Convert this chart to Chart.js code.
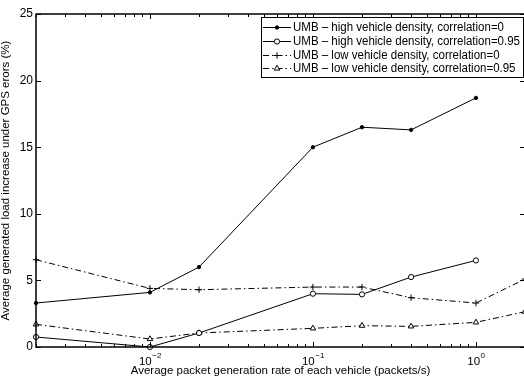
<!DOCTYPE html>
<html>
<head>
<meta charset="utf-8">
<script src="https://cdn.jsdelivr.net/npm/chart.js@4.4.1/dist/chart.umd.min.js"></script>
<style>
  html, body { margin: 0; padding: 0; background: #fff; overflow: hidden; }
  #chart { display: block; }
</style>
</head>
<body>
<canvas id="chart" width="530" height="379"></canvas>
<script>
// packet generation rate (packets/s)
const rates = [0.002, 0.01, 0.02, 0.1, 0.2, 0.4, 1];
const ratesLow = [0.002, 0.01, 0.02, 0.1, 0.2, 0.4, 1, 2];

// generated load increase (%)
const highCorr0 = [3.3, 4.1, 6.0, 15.0, 16.5, 16.3, 18.7];
const highCorr95 = [0.75, 0.0, 1.05, 4.0, 3.95, 5.25, 6.5];
const lowCorr0 = [6.55, 4.4, 4.3, 4.5, 4.5, 3.7, 3.3, 5.1];
const lowCorr95 = [1.7, 0.6, 1.05, 1.4, 1.6, 1.55, 1.85, 2.65];

const seriesNames = [
  'UMB \u2013 high vehicle density, correlation=0',
  'UMB \u2013 high vehicle density, correlation=0.95',
  'UMB \u2013 low vehicle density, correlation=0',
  'UMB \u2013 low vehicle density, correlation=0.95'
];

const yTickStep = 5;
const xDecades = [0.01, 0.1, 1];
const xDecadeExps = ['\u22122', '\u22121', '0'];

const FONT = '"Liberation Sans", Arial, Helvetica, sans-serif';
const DASHDOT = [6, 3, 1.5, 3];

const toPoints = (xs, ys) => ys.map((v, i) => ({ x: xs[i], y: v }));

const markers = [
  { pointStyle: 'circle', radius: 1.7, fill: '#000' },
  { pointStyle: 'circle', radius: 2.6, fill: '#fff' },
  { pointStyle: 'cross', radius: 3.2, fill: '#fff' },
  { pointStyle: 'triangle', radius: 3.2, fill: '#fff' }
];
const dashes = [[], [], DASHDOT, DASHDOT];

function makeSet(i, xs, ys) {
  const m = markers[i];
  return {
    label: seriesNames[i],
    data: toPoints(xs, ys),
    borderColor: '#000',
    borderWidth: 1,
    borderDash: dashes[i],
    pointStyle: m.pointStyle,
    pointRadius: m.radius,
    pointBackgroundColor: m.fill,
    pointBorderColor: '#000',
    pointBorderWidth: 1,
    tension: 0,
    clip: false
  };
}

// box, inward tick marks, decade labels and legend
const matlabFrame = {
  id: 'matlabFrame',
  afterDatasetsDraw(chart) {
    const { ctx, chartArea: a, scales: { x, y } } = chart;
    ctx.save();
    ctx.setLineDash([]);
    ctx.strokeStyle = '#000';

    ctx.lineWidth = 1;
    ctx.beginPath();
    x.ticks.forEach(t => {
      const lg = Math.log10(t.value);
      const major = Math.abs(lg - Math.round(lg)) < 1e-9;
      const len = major ? 5 : 3;
      const px = Math.round(x.getPixelForValue(t.value)) + 0.5;
      ctx.moveTo(px, a.bottom); ctx.lineTo(px, a.bottom - len);
      ctx.moveTo(px, a.top); ctx.lineTo(px, a.top + len);
    });
    y.ticks.forEach(t => {
      const py = Math.round(y.getPixelForValue(t.value)) + 0.5;
      ctx.moveTo(a.left, py); ctx.lineTo(a.left + 5, py);
      ctx.moveTo(a.right, py); ctx.lineTo(a.right - 5, py);
    });
    ctx.stroke();

    ctx.lineWidth = 1.5;
    ctx.strokeRect(a.left, a.top, a.right - a.left, a.bottom - a.top);

    // 10^n labels
    ctx.fillStyle = '#000';
    ctx.textBaseline = 'alphabetic';
    ctx.textAlign = 'left';
    xDecades.forEach((v, i) => {
      const px = x.getPixelForValue(v);
      ctx.font = '11.5px ' + FONT;
      const bw = ctx.measureText('10').width;
      ctx.font = '8px ' + FONT;
      const ew = ctx.measureText(xDecadeExps[i]).width;
      const left = px - (bw + ew) / 2;
      ctx.font = '11.5px ' + FONT;
      ctx.fillText('10', left, a.bottom + 18);
      ctx.font = '8px ' + FONT;
      ctx.fillText(xDecadeExps[i], left + bw + 0.5, a.bottom + 11);
    });

    // legend
    const box = { left: 261.5, top: 17.5, right: 523.5, bottom: 77.5 };
    const textX = 293, textRight = 520;
    ctx.fillStyle = '#fff';
    ctx.fillRect(box.left, box.top, box.right - box.left, box.bottom - box.top);
    ctx.lineWidth = 1;
    ctx.strokeRect(box.left, box.top, box.right - box.left, box.bottom - box.top);
    ctx.textBaseline = 'middle';
    ctx.font = '12px ' + FONT;
    const widest = Math.max(...chart.data.datasets.map(ds => ctx.measureText(ds.label).width));
    const squeeze = Math.min(1, (textRight - textX) / widest);
    chart.data.datasets.forEach((ds, i) => {
      const ry = Math.round(box.top + 9.5 + i * 13.8) + 0.5;
      ctx.strokeStyle = '#000';
      ctx.lineWidth = 1;
      ctx.setLineDash(ds.borderDash);
      ctx.beginPath();
      ctx.moveTo(263, ry); ctx.lineTo(291, ry);
      ctx.stroke();
      ctx.setLineDash([]);
      ctx.fillStyle = ds.pointBackgroundColor;
      Chart.helpers.drawPoint(ctx, {
        pointStyle: ds.pointStyle, radius: ds.pointRadius, rotation: 0, borderWidth: 1
      }, 277, ry);
      ctx.fillStyle = '#000';
      const w = ctx.measureText(ds.label).width;
      ctx.fillText(ds.label, textX, ry + 0.5, w * squeeze);
    });
    ctx.restore();
  }
};

new Chart(document.getElementById('chart'), {
  type: 'line',
  data: {
    datasets: [
      makeSet(0, rates, highCorr0),
      makeSet(1, rates, highCorr95),
      makeSet(2, ratesLow, lowCorr0),
      makeSet(3, ratesLow, lowCorr95)
    ]
  },
  options: {
    responsive: false,
    animation: false,
    devicePixelRatio: 1,
    layout: { padding: { top: 14, right: 3, left: 0, bottom: 0 } },
    plugins: { legend: { display: false }, tooltip: { enabled: false } },
    scales: {
      x: {
        type: 'logarithmic',
        min: 0.002,
        max: 2,
        grid: { display: false, drawTicks: false },
        border: { display: false },
        ticks: { autoSkip: false, callback: () => '' },
        afterBuildTicks: scale => {
          const ticks = [];
          for (let e = -3; e <= 0; e++) {
            for (let m = 1; m <= 9; m++) {
              const v = parseFloat((m * Math.pow(10, e)).toPrecision(6));
              if (v >= scale.min && v <= scale.max) ticks.push({ value: v });
            }
          }
          scale.ticks = ticks;
        },
        afterFit: scale => { scale.height = 32; },
        title: {
          display: true,
          text: 'Average packet generation rate of each vehicle (packets/s)',
          color: '#000',
          font: { family: FONT, size: 11.5, lineHeight: 1 },
          padding: { top: 0, bottom: 2 }
        }
      },
      y: {
        min: 0,
        max: 25,
        grid: { display: false, drawTicks: false },
        border: { display: false },
        ticks: {
          stepSize: yTickStep,
          color: '#000',
          padding: 3,
          font: { family: FONT, size: 12 }
        },
        afterFit: scale => { scale.width = 36; },
        title: {
          display: true,
          text: 'Average generated load increase under GPS erors (%)',
          color: '#000',
          font: { family: FONT, size: 11.5, lineHeight: 1 },
          padding: { top: 0, bottom: 0 }
        }
      }
    }
  },
  plugins: [matlabFrame]
});
</script>
</body>
</html>
